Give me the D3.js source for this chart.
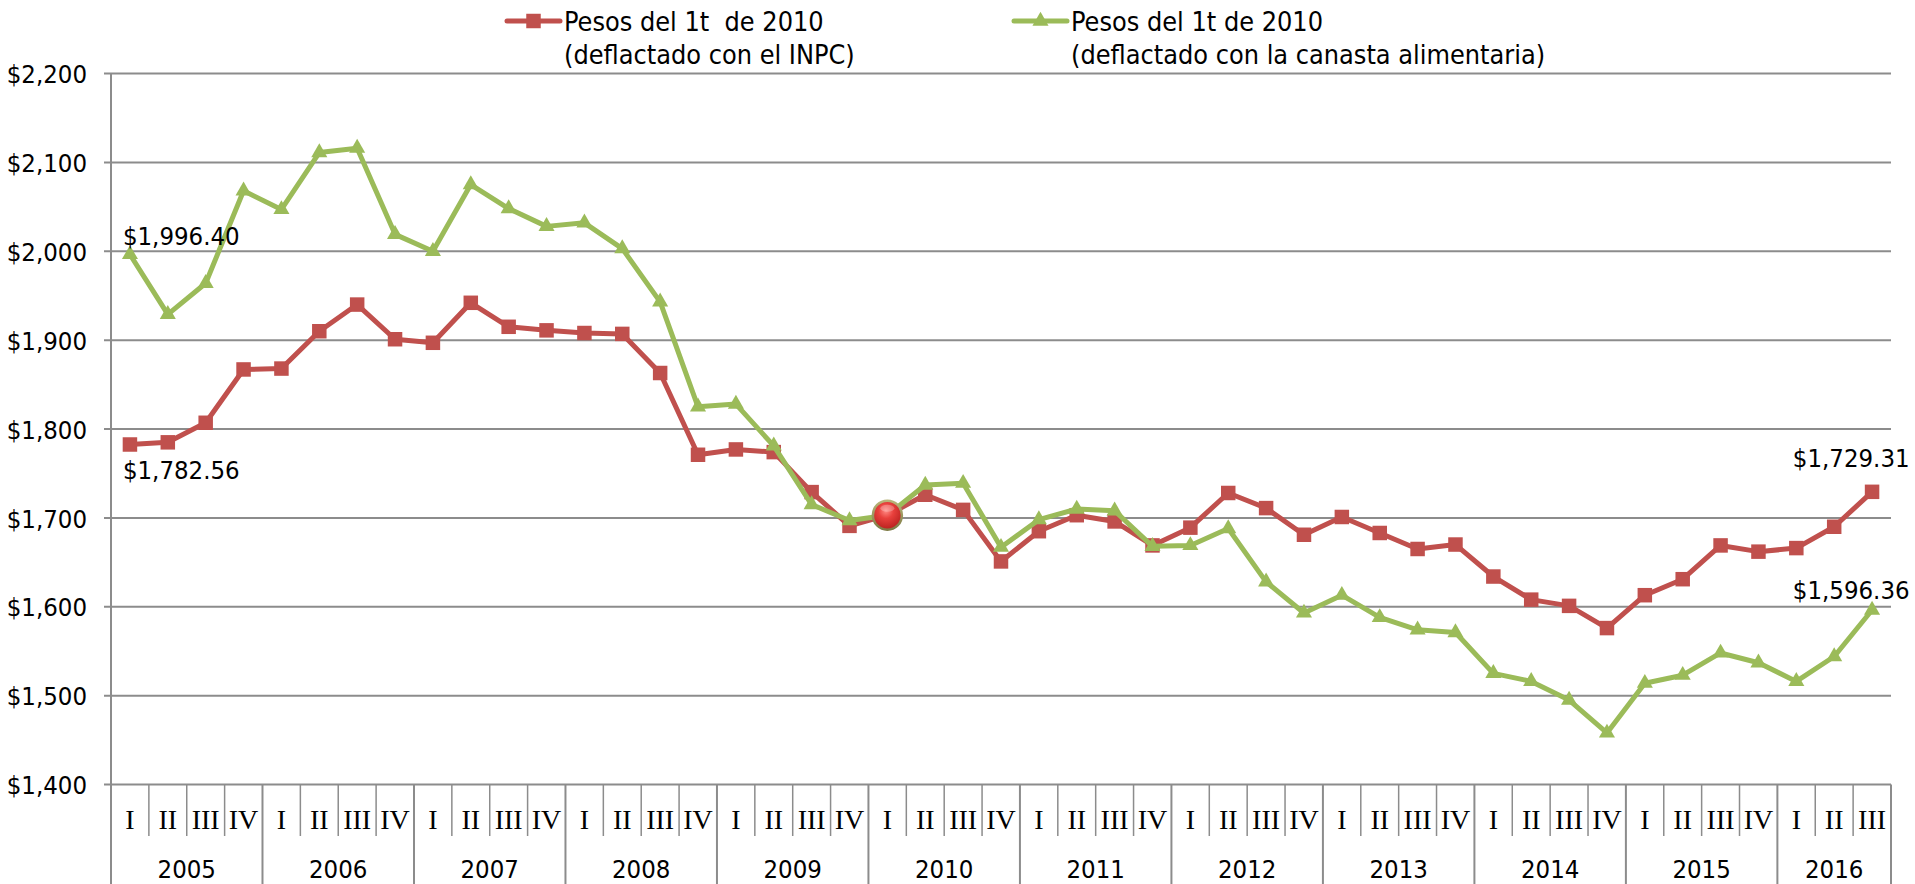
<!DOCTYPE html>
<html>
<head>
<meta charset="utf-8">
<script src="https://cdn.jsdelivr.net/npm/d3@7"></script>
<style>
  html, body { margin: 0; padding: 0; background: #ffffff; }
  svg { display: block; }
  .sans { font-family: "DejaVu Sans Condensed", "DejaVu Sans", sans-serif; font-stretch: condensed; fill: #000; }
  .serif { font-family: "Liberation Serif", "DejaVu Serif", serif; fill: #000; }
</style>
</head>
<body>
<svg id="chart" width="1915" height="884"></svg>
<script>
// Years and quarter names of the horizontal axis
const years = ["2005", "2006", "2007", "2008", "2009", "2010", "2011", "2012", "2013", "2014", "2015", "2016"];
const quarterNames = ["I", "II", "III", "IV"];

// Pesos del 1t de 2010, deflactado con el INPC
const inpcValues = [
  1782.56, 1785, 1807, 1867,
  1868, 1910, 1940, 1901,
  1897, 1942, 1915, 1911,
  1908, 1907, 1863, 1771,
  1777, 1774, 1729, 1691,
  1703, 1726, 1709, 1651,
  1685, 1703, 1696, 1669,
  1689, 1728, 1711, 1681,
  1701, 1683, 1665, 1670,
  1634, 1608, 1601, 1576,
  1613, 1631, 1669, 1662,
  1666, 1690, 1729.31
];

// Pesos del 1t de 2010, deflactado con la canasta alimentaria
const canastaValues = [
  1996.40, 1929, 1964, 2068,
  2047, 2111, 2116, 2019,
  2000, 2075, 2048, 2028,
  2032, 2003, 1943, 1825,
  1828, 1781, 1715, 1697,
  1703, 1737, 1739, 1667,
  1698, 1710, 1708, 1668,
  1669, 1688, 1628, 1593,
  1613, 1588, 1574, 1571,
  1525, 1516, 1495, 1458,
  1514, 1523, 1548, 1537,
  1516, 1544, 1596.36
];

const yTicks = [1400, 1500, 1600, 1700, 1800, 1900, 2000, 2100, 2200];

const seriesNames = [
  ["Pesos del 1t\u00A0 de 2010", "(deflactado con el INPC)"],
  ["Pesos del 1t de 2010", "(deflactado con la canasta alimentaria)"]
];

// Base period highlighted on the chart
const basePeriod = { year: "2010", quarter: "I" };

const categories = years
  .flatMap(y => quarterNames.map(q => ({ year: y, quarter: q })))
  .slice(0, inpcValues.length);

const W = 1915, H = 884;
const plot = { left: 111, right: 1891, top: 73.5, bottom: 784.5 };
const RED = "#C0504D", GREEN = "#9BBB59", GRID = "#8c8c8c";
const LINE_W = 5;
const SQUARE = 14.5 * 14.5;
const TRIANGLE = 112;

const svg = d3.select("#chart");
svg.append("rect").attr("width", W).attr("height", H).attr("fill", "#fff");

const x = d3.scaleBand()
  .domain(d3.range(categories.length))
  .range([plot.left, plot.right])
  .paddingInner(0).paddingOuter(0);
const cx = i => x(i) + x.bandwidth() / 2;

const y = d3.scaleLinear().domain([1400, 2200]).range([plot.bottom, plot.top]);

// Horizontal gridlines, each with a small tick to the left of the axis
svg.append("g").selectAll("line")
  .data(yTicks)
  .join("line")
  .attr("x1", plot.left - 7).attr("x2", plot.right)
  .attr("y1", d => y(d)).attr("y2", d => y(d))
  .attr("stroke", GRID).attr("stroke-width", 2);

// Value axis labels
const yAxis = d3.axisLeft(y)
  .tickValues(yTicks)
  .tickFormat(d3.format("$,.0f"))
  .tickSize(0)
  .tickPadding(24);
const gy = svg.append("g").attr("transform", `translate(${plot.left},0)`).call(yAxis);
gy.select(".domain").remove();
gy.attr("font-family", null).attr("font-size", null);
gy.selectAll("text")
  .attr("class", "sans")
  .attr("font-size", 25.5)
  .attr("dy", "0.36em");

// Vertical axis line, running down through the category labels
svg.append("line")
  .attr("x1", plot.left).attr("x2", plot.left)
  .attr("y1", plot.top).attr("y2", H)
  .attr("stroke", GRID).attr("stroke-width", 2);

// Category separators: short ones between quarters, long ones between years
const sepData = d3.range(1, categories.length + 1).map(i => ({
  x: i < categories.length ? x(i) : plot.right,
  yearEdge: i === categories.length || categories[i].quarter === "I"
}));
svg.append("g").selectAll("line")
  .data(sepData)
  .join("line")
  .attr("x1", d => d.x).attr("x2", d => d.x)
  .attr("y1", plot.bottom)
  .attr("y2", d => d.yearEdge ? H : 836)
  .attr("stroke", GRID)
  .attr("stroke-width", d => d.yearEdge ? 2 : 1.5);

// Quarter labels
svg.append("g").selectAll("text")
  .data(categories)
  .join("text")
  .attr("class", "serif")
  .attr("font-size", 28)
  .attr("text-anchor", "middle")
  .attr("x", (d, i) => cx(i))
  .attr("y", 829)
  .text(d => d.quarter);

// Year labels centred under their quarters
const yearGroups = years.map(yr => {
  const idx = categories.map((c, i) => c.year === yr ? i : -1).filter(i => i >= 0);
  return { year: yr, x0: x(idx[0]), x1: x(idx[idx.length - 1]) + x.bandwidth() };
});
svg.append("g").selectAll("text")
  .data(yearGroups)
  .join("text")
  .attr("class", "sans")
  .attr("font-size", 25.5)
  .attr("text-anchor", "middle")
  .attr("x", d => (d.x0 + d.x1) / 2)
  .attr("y", 877.5)
  .text(d => d.year);

// Series lines and markers
const line = d3.line().x((d, i) => cx(i)).y(d => y(d));

svg.append("path")
  .datum(inpcValues)
  .attr("d", line)
  .attr("fill", "none")
  .attr("stroke", RED).attr("stroke-width", LINE_W)
  .attr("stroke-linejoin", "round");
svg.append("g").selectAll("path")
  .data(inpcValues)
  .join("path")
  .attr("d", d3.symbol(d3.symbolSquare, SQUARE))
  .attr("transform", (d, i) => `translate(${cx(i)},${y(d)})`)
  .attr("fill", RED);

svg.append("path")
  .datum(canastaValues)
  .attr("d", line)
  .attr("fill", "none")
  .attr("stroke", GREEN).attr("stroke-width", LINE_W)
  .attr("stroke-linejoin", "round");
svg.append("g").selectAll("path")
  .data(canastaValues)
  .join("path")
  .attr("d", d3.symbol(d3.symbolTriangle, TRIANGLE))
  .attr("transform", (d, i) => `translate(${cx(i)},${y(d)})`)
  .attr("fill", GREEN);

// Glossy marker on the base period
const defs = svg.append("defs");
const grad = defs.append("radialGradient")
  .attr("id", "ballFill")
  .attr("cx", "45%").attr("cy", "35%").attr("r", "65%");
grad.append("stop").attr("offset", "0%").attr("stop-color", "#ff8a84");
grad.append("stop").attr("offset", "40%").attr("stop-color", "#e8403c");
grad.append("stop").attr("offset", "100%").attr("stop-color", "#b8201e");
const ring = defs.append("linearGradient")
  .attr("id", "ballRing").attr("x1", 0).attr("y1", 0).attr("x2", 0).attr("y2", 1);
ring.append("stop").attr("offset", "0%").attr("stop-color", "#b9b57a");
ring.append("stop").attr("offset", "100%").attr("stop-color", "#7d7a45");

const bi = categories.findIndex(c => c.year === basePeriod.year && c.quarter === basePeriod.quarter);
svg.append("circle")
  .attr("cx", cx(bi)).attr("cy", y(inpcValues[bi]))
  .attr("r", 14.5)
  .attr("fill", "url(#ballFill)")
  .attr("stroke", "url(#ballRing)").attr("stroke-width", 2.5);
svg.append("ellipse")
  .attr("cx", cx(bi)).attr("cy", y(inpcValues[bi]) - 7)
  .attr("rx", 7).attr("ry", 3.5)
  .attr("fill", "#ffffff").attr("opacity", 0.25);

// Value labels at the first and last quarters
const fmt = d3.format("$,.2f");
const last = inpcValues.length - 1;
const valueLabels = [
  { v: canastaValues[0], i: 0, dx: -7, dy: -9, anchor: "start" },
  { v: inpcValues[0], i: 0, dx: -7, dy: 35, anchor: "start" },
  { v: inpcValues[last], i: last, dx: 37.5, dy: -25, anchor: "end" },
  { v: canastaValues[last], i: last, dx: 37.5, dy: -11, anchor: "end" }
];
svg.append("g").selectAll("text")
  .data(valueLabels)
  .join("text")
  .attr("class", "sans")
  .attr("font-size", 25.5)
  .attr("text-anchor", d => d.anchor)
  .attr("x", d => cx(d.i) + d.dx)
  .attr("y", d => y(d.v) + d.dy)
  .text(d => fmt(d.v));

// Legend
const legend = [
  { x: 507, color: RED, symbol: d3.symbolSquare, size: SQUARE, lines: seriesNames[0] },
  { x: 1014, color: GREEN, symbol: d3.symbolTriangle, size: TRIANGLE, lines: seriesNames[1] }
];
const lg = svg.append("g").selectAll("g").data(legend).join("g");
lg.append("line")
  .attr("x1", d => d.x).attr("x2", d => d.x + 53)
  .attr("y1", 21).attr("y2", 21)
  .attr("stroke", d => d.color).attr("stroke-width", LINE_W).attr("stroke-linecap", "round");
lg.append("path")
  .attr("d", d => d3.symbol(d.symbol, d.size)())
  .attr("transform", d => `translate(${d.x + 26.5},21)`)
  .attr("fill", d => d.color);
lg.append("text")
  .attr("class", "sans")
  .attr("font-size", 26.8)
  .attr("x", d => d.x + 57)
  .attr("y", 30.5)
  .text(d => d.lines[0]);
lg.append("text")
  .attr("class", "sans")
  .attr("font-size", 26.8)
  .attr("x", d => d.x + 57)
  .attr("y", 63.5)
  .text(d => d.lines[1]);
</script>
</body>
</html>
